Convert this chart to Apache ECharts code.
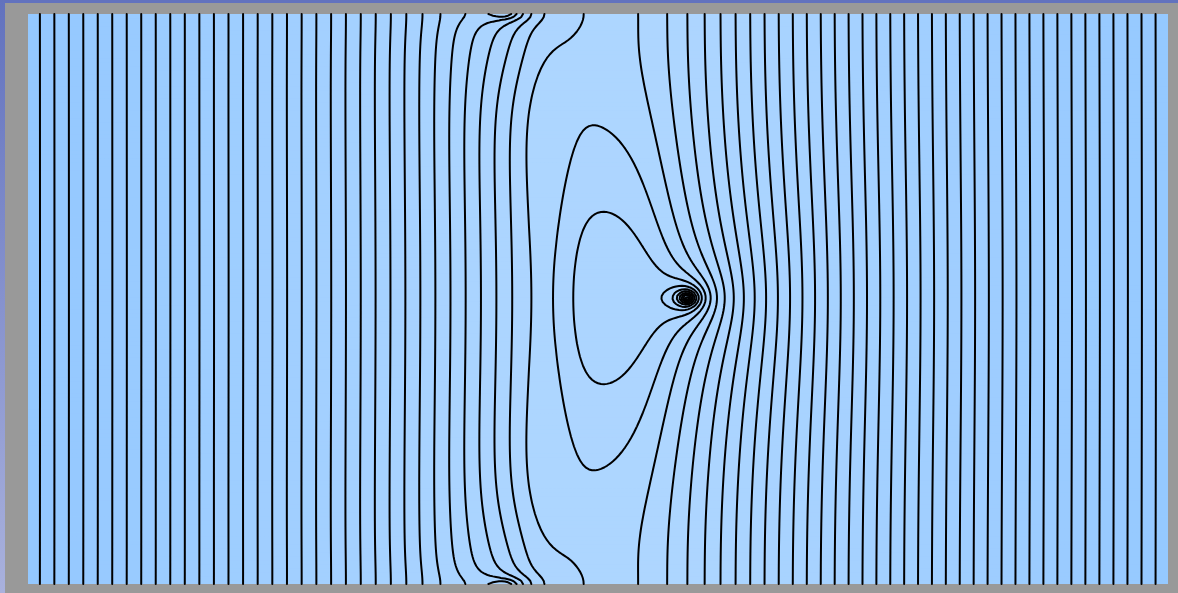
<!DOCTYPE html>
<html lang="en">
<head>
<meta charset="utf-8">
<title>Equipotential contours</title>
<script src="https://cdn.jsdelivr.net/npm/echarts@6/dist/echarts.min.js"></script>
<style>
html,body{margin:0;padding:0;background:#999999;overflow:hidden;}
#main{width:1178px;height:593px;}
</style>
</head>
<body>
<div id="main"></div>
<script>
// values, in plot pixels (x from the left edge, y from the bottom edge)
var boxSize = [1140, 570];
var lineSpacing = 14.3;            // spacing of the straight lines far from the middle
var firstLineX = 12;               // leftmost line
var bandEdges = [509, 637];        // weak-gradient band in the middle
var bandSoftness = [7, 25];
var bandDepth = 0.99;
var sourceAt = [659, 286];         // ringed point in the middle
var sourceStrength = 0.58;
var sourceReach = 360;
var plateauEdges = [537, 632];     // raised region to its left
var plateauSoftness = [10, 18];
var plateauHeight = 1.95;
var plateauSpread = 140;
var topAt = [477, 570];            // ringed point on the top/bottom edge
var topBumpAt = [495, 570];
var topSpread = [40, 55];
var topHeight = 1.3;
var ringStrength = [1.8, 1.0];
var ringRadius = [14, 12];
var ringStretch = [1.45, 3.5];

// fill shading by value
var shadeValues = [0, -35, -72];
var shadeColors = ['#94c8ff', '#aed6ff', '#94c8ff'];

function softplus(t) { return t > 30 ? t : Math.log(1 + Math.exp(t)); }
function logistic(t) { return 1 / (1 + Math.exp(-t)); }
function rings(dx, dy, k) {
    var q = (dx / ringStretch[k]) * (dx / ringStretch[k]) + dy * dy + 4;
    return ringStrength[k] * Math.log(1 + ringRadius[k] * ringRadius[k] / q);
}
function field(x, y) {
    var e = 1 / lineSpacing, H = boxSize[1];
    var v = -e * x + e * bandDepth * (bandSoftness[0] * softplus((x - bandEdges[0]) / bandSoftness[0])
                                   - bandSoftness[1] * softplus((x - bandEdges[1]) / bandSoftness[1]));
    var px = logistic((x - plateauEdges[0]) / plateauSoftness[0]) - logistic((x - plateauEdges[1]) / plateauSoftness[1]);
    for (var p = -1; p <= 1; p++) {
        var dx = x - sourceAt[0], dy = y - sourceAt[1] + p * H;
        v += plateauHeight * px * Math.exp(-dy * dy / (2 * plateauSpread * plateauSpread));
        v += sourceStrength * Math.log(1 + sourceReach * sourceReach / (dx * dx + dy * dy + 4));
        v += rings(dx, dy, 0);
    }
    for (var p = -2; p <= 1; p++) {
        var dx = x - topBumpAt[0], dy = y - topBumpAt[1] - p * H;
        v += topHeight * Math.exp(-(dx * dx) / (2 * topSpread[0] * topSpread[0]) - (dy * dy) / (2 * topSpread[1] * topSpread[1]));
        v += rings(x - topAt[0], y - topAt[1] - p * H, 1);
    }
    return v;
}
var levelOffset = field(firstLineX, sourceAt[1]);
levelOffset -= Math.floor(levelOffset);

// sample the field
var NX = 380, NY = 190;
var g = [];
for (var j = 0; j <= NY; j++) {
    var row = [];
    for (var i = 0; i <= NX; i++) row.push(field(i / NX * boxSize[0], j / NY * boxSize[1]));
    g.push(row);
}

// marching squares
function edgePoint(e, i, j, L) {
    var va, vb, t;
    if (e == 0) { va = g[j][i]; vb = g[j][i + 1]; t = (L - va) / (vb - va); return ['h' + i + '_' + j, [(i + t) / NX, j / NY]]; }
    if (e == 1) { va = g[j][i + 1]; vb = g[j + 1][i + 1]; t = (L - va) / (vb - va); return ['v' + (i + 1) + '_' + j, [(i + 1) / NX, (j + t) / NY]]; }
    if (e == 2) { va = g[j + 1][i]; vb = g[j + 1][i + 1]; t = (L - va) / (vb - va); return ['h' + i + '_' + (j + 1), [(i + t) / NX, (j + 1) / NY]]; }
    va = g[j][i]; vb = g[j + 1][i]; t = (L - va) / (vb - va); return ['v' + i + '_' + j, [i / NX, (j + t) / NY]];
}
var CASES = {
    1: [[3, 0]], 2: [[0, 1]], 3: [[3, 1]], 4: [[1, 2]], 6: [[0, 2]], 7: [[3, 2]],
    8: [[2, 3]], 9: [[0, 2]], 11: [[1, 2]], 12: [[1, 3]], 13: [[0, 1]], 14: [[0, 3]]
};
var segsByLevel = {};
for (var j = 0; j < NY; j++) {
    for (var i = 0; i < NX; i++) {
        var v00 = g[j][i], v10 = g[j][i + 1], v11 = g[j + 1][i + 1], v01 = g[j + 1][i];
        var cmin = Math.min(v00, v10, v11, v01), cmax = Math.max(v00, v10, v11, v01);
        var nlo = Math.ceil(cmin - levelOffset), nhi = Math.floor(cmax - levelOffset);
        for (var n = nlo; n <= nhi; n++) {
            var L = levelOffset + n;
            if (L == v00 || L == v10 || L == v11 || L == v01) L += 1e-9;
            var idx = (v00 > L ? 1 : 0) | (v10 > L ? 2 : 0) | (v11 > L ? 4 : 0) | (v01 > L ? 8 : 0);
            var pairs;
            if (idx == 5 || idx == 10) {
                var up = (v00 + v10 + v11 + v01) / 4 > L;
                pairs = ((idx == 5) == up) ? [[0, 1], [2, 3]] : [[3, 0], [1, 2]];
            } else {
                pairs = CASES[idx];
            }
            if (!pairs) continue;
            if (!segsByLevel[n]) segsByLevel[n] = [];
            for (var k = 0; k < pairs.length; k++) {
                segsByLevel[n].push([edgePoint(pairs[k][0], i, j, L), edgePoint(pairs[k][1], i, j, L)]);
            }
        }
    }
}

// join the little segments into polylines
function stitch(segs) {
    var adj = {}, used = [], out = [];
    segs.forEach(function (s, idx) {
        (adj[s[0][0]] = adj[s[0][0]] || []).push(idx);
        (adj[s[1][0]] = adj[s[1][0]] || []).push(idx);
    });
    function grow(key, pts, front) {
        while (true) {
            var list = adj[key] || [], next = -1;
            for (var q = 0; q < list.length; q++) if (!used[list[q]]) { next = list[q]; break; }
            if (next < 0) return;
            used[next] = true;
            var s = segs[next];
            var other = s[0][0] == key ? s[1] : s[0];
            if (front) pts.unshift(other[1]); else pts.push(other[1]);
            key = other[0];
        }
    }
    for (var idx = 0; idx < segs.length; idx++) {
        if (used[idx]) continue;
        used[idx] = true;
        var pts = [segs[idx][0][1], segs[idx][1][1]];
        grow(segs[idx][1][0], pts, false);
        grow(segs[idx][0][0], pts, true);
        out.push({coords: pts});
    }
    return out;
}
var contourData = [];
Object.keys(segsByLevel).forEach(function (n) {
    contourData = contourData.concat(stitch(segsByLevel[n]));
});

// fill cells, one flat colour per band between two lines
function hexToRgb(h) {
    return [parseInt(h.substr(1, 2), 16), parseInt(h.substr(3, 2), 16), parseInt(h.substr(5, 2), 16)];
}
var shadeRgb = shadeColors.map(hexToRgb);
function shade(v) {
    var c = levelOffset + Math.floor(v - levelOffset) + 0.5;
    if (c >= shadeValues[0]) return shadeColors[0];
    if (c <= shadeValues[shadeValues.length - 1]) return shadeColors[shadeColors.length - 1];
    for (var k = 0; k < shadeValues.length - 1; k++) {
        if (c <= shadeValues[k] && c >= shadeValues[k + 1]) {
            var t = (shadeValues[k] - c) / (shadeValues[k] - shadeValues[k + 1]);
            var a = shadeRgb[k], b = shadeRgb[k + 1];
            return 'rgb(' + Math.round(a[0] + (b[0] - a[0]) * t) + ',' + Math.round(a[1] + (b[1] - a[1]) * t) + ',' + Math.round(a[2] + (b[2] - a[2]) * t) + ')';
        }
    }
    return shadeColors[0];
}
var FX = 285, FY = 143;
var cellData = [];
for (var j = 0; j < FY; j++) {
    for (var i = 0; i < FX; i++) {
        var cx = (i + 0.5) / FX, cy = (j + 0.5) / FY;
        cellData.push([cx, cy, field(cx * boxSize[0], cy * boxSize[1])]);
    }
}

var myChart = echarts.init(document.getElementById('main'), null, {renderer: 'canvas'});
var option = {
    backgroundColor: '#999999',
    animation: false,
    grid: {left: 28, top: 14, width: 1140, height: 570, show: true, backgroundColor: '#a4d0ff', borderWidth: 0},
    xAxis: {type: 'value', min: 0, max: 1, show: false},
    yAxis: {type: 'value', min: 0, max: 1, show: false},
    graphic: [
        {type: 'rect', left: 0, top: 0, shape: {width: 1178, height: 3}, style: {fill: '#6272be'}, silent: true},
        {type: 'rect', left: 0, top: 0, shape: {width: 5, height: 593}, silent: true,
         style: {fill: new echarts.graphic.LinearGradient(0, 0, 0, 1, [{offset: 0, color: '#6272be'}, {offset: 1, color: '#a9b1dd'}])}}
    ],
    series: [
        {
            type: 'custom',
            silent: true,
            progressive: 0,
            data: cellData,
            renderItem: function (params, api) {
                var p = api.coord([api.value(0) - 0.5 / FX, api.value(1) + 0.5 / FY]);
                var s = api.size([1 / FX, 1 / FY]);
                return {type: 'rect', shape: {x: p[0], y: p[1], width: s[0] + 0.6, height: s[1] + 0.6},
                        style: {fill: shade(api.value(2))}};
            },
            clip: true
        },
        {
            type: 'lines',
            coordinateSystem: 'cartesian2d',
            polyline: true,
            silent: true,
            progressive: 0,
            large: false,
            data: contourData,
            lineStyle: {color: '#000000', width: 2, opacity: 1, cap: 'round', join: 'round'},
            clip: true
        }
    ]
};
myChart.setOption(option);
</script>
</body>
</html>
